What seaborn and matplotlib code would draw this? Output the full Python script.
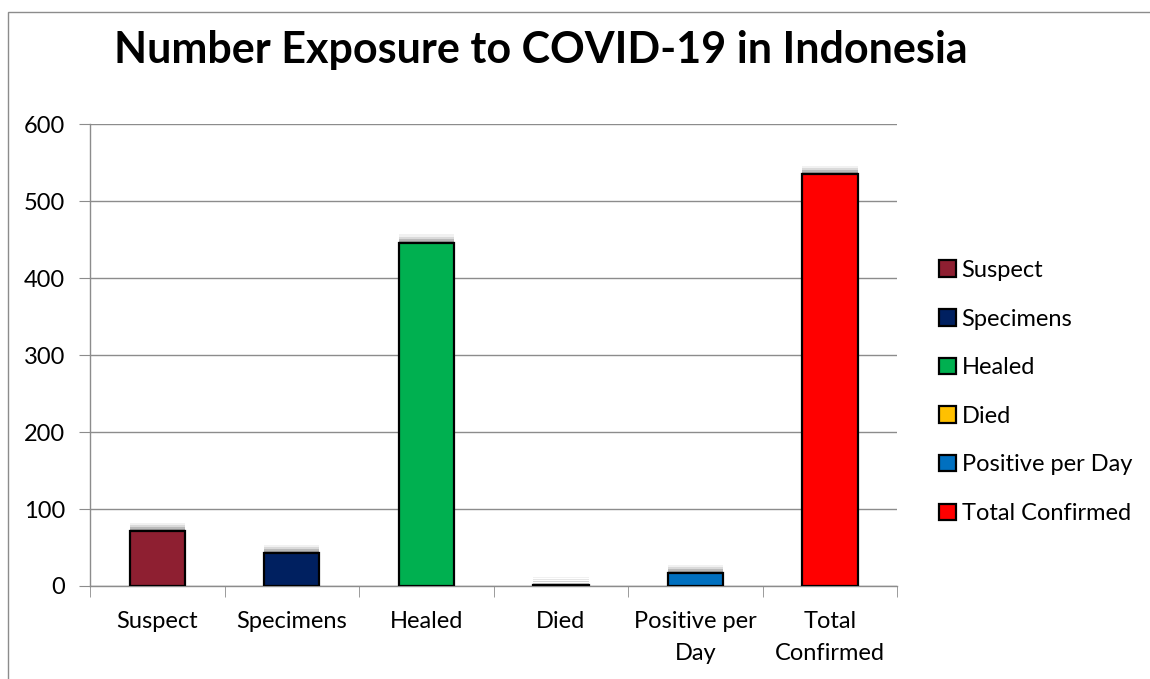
import matplotlib
matplotlib.use("Agg")
import matplotlib.pyplot as plt
import matplotlib.patheffects as pe
from matplotlib.patches import Rectangle
import seaborn as sns
import pandas as pd

# data
categories = ["Suspect", "Specimens", "Healed", "Died", "Positive per Day", "Total Confirmed"]
tick_labels = ["Suspect", "Specimens", "Healed", "Died", "Positive per\nDay", "Total\nConfirmed"]
values = [71, 43, 446, 1, 17, 535]
colors = ["#8E1F31", "#002060", "#00B050", "#FFC000", "#0070C0", "#FF0000"]

df = pd.DataFrame({"Category": categories, "Value": values})

sns.set_style("white")
plt.rcParams["font.family"] = ["Lato", "DejaVu Sans"]
plt.rcParams["text.color"] = "black"
plt.rcParams["xtick.color"] = "black"
plt.rcParams["ytick.color"] = "black"

fig = plt.figure(figsize=(11.5, 6.79), dpi=100)
ax = fig.add_axes([0.0783, 0.137, 0.702, 0.680])

sns.barplot(
    data=df, x="Category", y="Value", hue="Category",
    palette=colors, saturation=1, dodge=False, legend=True, width=0.41,
    edgecolor="black", linewidth=1.6, ax=ax, zorder=3,
)

handles, labels = ax.get_legend_handles_labels()

# soft shadow above each bar
for bar in ax.patches:
    bar.set_path_effects([
        pe.SimplePatchShadow(offset=(0, 6), shadow_rgbFace="0.55", alpha=0.12),
        pe.SimplePatchShadow(offset=(0, 4.5), shadow_rgbFace="0.5", alpha=0.2),
        pe.SimplePatchShadow(offset=(0, 3), shadow_rgbFace="0.45", alpha=0.3),
        pe.SimplePatchShadow(offset=(0, 1.5), shadow_rgbFace="0.4", alpha=0.35),
        pe.Normal(),
    ])

ax.set_ylim(0, 600)
ax.set_xlim(-0.5, len(categories) - 0.5)
ax.set_yticks(range(0, 601, 100))
ax.yaxis.grid(True, color="#8c8c8c", linewidth=1, zorder=0)
ax.set_axisbelow(True)
ax.set_xlabel("")
ax.set_ylabel("")
ax.set_xticks(range(len(categories)))
ax.set_xticklabels(tick_labels, linespacing=1.65)
ax.set_xticks([i - 0.5 for i in range(len(categories) + 1)], minor=True)
ax.tick_params(axis="x", which="major", length=0, pad=18, labelsize=17)
ax.tick_params(axis="x", which="minor", length=8, color="#8c8c8c", direction="out", bottom=True)
ax.tick_params(axis="y", length=8, color="#8c8c8c", direction="out", left=True, pad=10, labelsize=17)

for s in ["top", "right"]:
    ax.spines[s].set_visible(False)
for s in ["left", "bottom"]:
    ax.spines[s].set_color("#8c8c8c")
    ax.spines[s].set_linewidth(1)

for h in handles:
    h.set_edgecolor("black")
    h.set_linewidth(1.6)
    h.set_path_effects([])
leg = ax.legend(
    handles, labels, loc="center left", bbox_to_anchor=(1.04, 0.42),
    frameon=False, fontsize=17, handlelength=0.7, handleheight=0.7,
    handletextpad=0.25, labelspacing=1.17, borderaxespad=0,
)
for h in leg.legend_handles:
    h.set_path_effects([])

fig.text(0.47, 0.926, "Number Exposure to COVID-19 in Indonesia",
         ha="center", va="center", fontsize=31, fontweight="bold")

# chart border
fig.patches.append(Rectangle((0.007, -0.01), 1.2, 0.993, transform=fig.transFigure,
                             fill=False, edgecolor="#8c8c8c", linewidth=1))

fig.savefig("out.png", dpi=100)
